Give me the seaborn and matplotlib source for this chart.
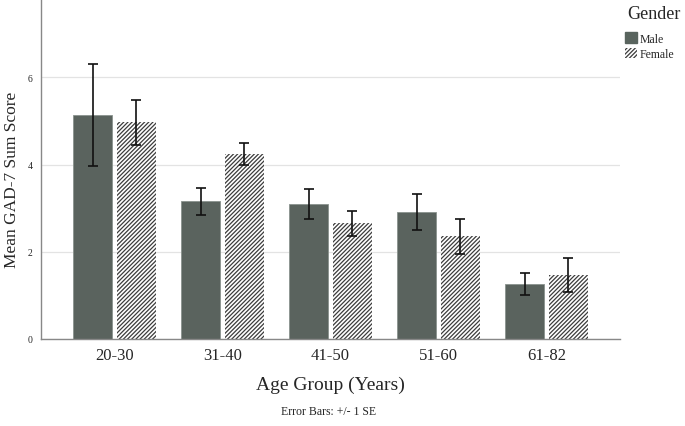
import matplotlib
matplotlib.use("Agg")
import matplotlib.pyplot as plt
import matplotlib.patches as mpatches
import pandas as pd
import seaborn as sns

# values
age_groups = ["20-30", "31-40", "41-50", "51-60", "61-82"]
genders = ["Male", "Female"]
male_mean = [5.13, 3.16, 3.09, 2.91, 1.26]
male_se = [1.17, 0.31, 0.35, 0.42, 0.25]
female_mean = [4.97, 4.25, 2.65, 2.35, 1.46]
female_se = [0.51, 0.25, 0.28, 0.40, 0.39]

male_color = "#59645e"
line_color = "#3c3c3c"

df = pd.DataFrame({
    "age": age_groups * 2,
    "gender": ["Male"] * len(age_groups) + ["Female"] * len(age_groups),
    "mean": male_mean + female_mean,
    "se": male_se + female_se,
})

sns.set_theme(style="white")
plt.rcParams["font.family"] = ["Liberation Serif", "DejaVu Serif"]
plt.rcParams["hatch.linewidth"] = 0.9
plt.rcParams["hatch.color"] = line_color

fig = plt.figure(figsize=(6.85, 4.27), dpi=100)
ax = fig.add_axes([0.06, 0.204, 0.845, 0.796])

sns.barplot(data=df, x="age", y="mean", hue="gender", hue_order=genders,
            order=age_groups, palette=[male_color, "white"], errorbar=None,
            width=0.8, gap=0.1, ax=ax, legend=False, zorder=2)

# style bars and add +/- 1 SE error bars
for container, gender in zip(ax.containers, genders):
    sub = df[df["gender"] == gender].set_index("age").loc[age_groups]
    xs = []
    for patch in container.patches:
        xs.append(patch.get_x() + patch.get_width() / 2)
        if gender == "Female":
            patch.set_facecolor("white")
            patch.set_hatch("////////")
            patch.set_edgecolor(line_color)
            patch.set_linewidth(0)
        else:
            patch.set_edgecolor("#8a938e")
            patch.set_linewidth(0.6)
    ax.errorbar(xs, sub["mean"], yerr=sub["se"], fmt="none", ecolor="#111111",
                elinewidth=1.2, capsize=3.6, capthick=1.2, zorder=3)

ax.set_ylim(0, 7.8)
ax.set_xlim(-0.68, 4.68)
ax.set_yticks([0, 2, 4, 6])
ax.yaxis.grid(True, color="#e3e3e3", linewidth=0.9, zorder=0)
ax.set_axisbelow(True)
ax.tick_params(axis="y", labelsize=7, length=0, pad=6)
ax.tick_params(axis="x", labelsize=12, length=0, pad=6)
for side in ["top", "right"]:
    ax.spines[side].set_visible(False)
for side in ["left", "bottom"]:
    ax.spines[side].set_color("#888888")
    ax.spines[side].set_linewidth(1.0)

ax.set_xlabel("Age Group (Years)", fontsize=14, labelpad=9)
ax.set_ylabel("Mean GAD-7 Sum Score", fontsize=12.5)
ax.yaxis.set_label_coords(-0.036, 0.47)
fig.text(0.48, 0.035, "Error Bars: +/- 1 SE", ha="center", va="center", fontsize=8.5)

# legend: title drawn separately so the entries sit a bit lower
fig.text(0.915, 0.966, "Gender", ha="left", va="center", fontsize=13)
handles = [
    mpatches.Patch(facecolor=male_color, edgecolor=male_color, label="Male"),
    mpatches.Patch(facecolor="white", edgecolor=line_color, hatch="////////",
                   linewidth=0, label="Female"),
]
fig.legend(handles=handles, loc="upper left", bbox_to_anchor=(0.912, 0.922),
           frameon=False, fontsize=8.5, handlelength=1.0, handleheight=1.0,
           handletextpad=0.3, labelspacing=0.25, borderaxespad=0, borderpad=0)

fig.savefig("out.png", dpi=100)
